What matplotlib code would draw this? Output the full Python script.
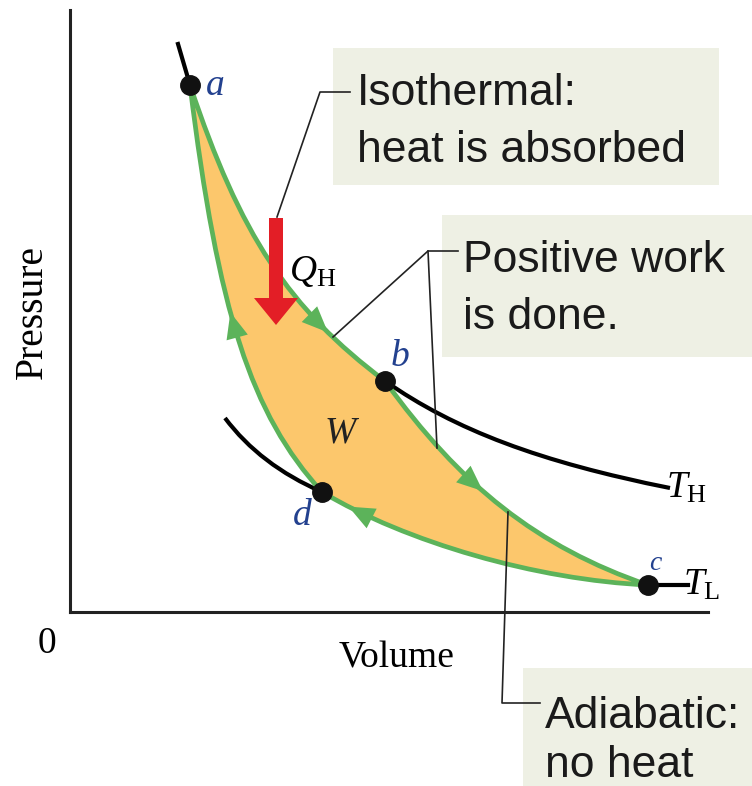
"""
Carnot cycle on a P-V diagram
Output: out.png (752 x 786 px)
"""
import matplotlib
matplotlib.use("Agg")
import matplotlib.pyplot as plt
import numpy as np
from matplotlib.path import Path
from matplotlib.patches import PathPatch, Polygon, Rectangle
from matplotlib.lines import Line2D
from matplotlib.bezier import BezierSegment

W_PX, H_PX = 752, 786

plt.rcParams["mathtext.fontset"] = "custom"
plt.rcParams["mathtext.rm"] = "Liberation Serif"
plt.rcParams["mathtext.it"] = "Liberation Serif:italic"

SERIF = "Liberation Serif"
SANS = "Liberation Sans"

GREEN = "#5cb35a"
FILL = "#fcc76c"
RED = "#e31e26"
BOX = "#eef0e4"
LABEL_BLUE = "#23418f"

# state points (volume, pressure) in plot units
STATE_NAMES = ["a", "b", "c", "d"]
STATE_V = [120, 315, 578, 252]
STATE_P = [527, 231, 27, 120]

# bezier control points (V, P) for the four legs of the cycle
ISO_HOT = [(120, 527), (170, 377), (219, 303), (315, 231)]      # a -> b
ADIA_EXP = [(315, 231), (390, 127), (467, 65), (578, 27)]       # b -> c
ISO_COLD = [(252, 120), (336, 70), (466, 32), (578, 27)]        # d -> c (drawn backwards)
ADIA_CMP = [(252, 120), (181, 198), (148, 300), (120, 527)]     # d -> a

# black isotherm extensions outside the cycle
TH_EXT = [(315, 231), (385, 182), (470, 150), (600, 124)]
TL_EXT_LEFT = [(155, 194), (190, 147), (252, 120)]
TL_EXT_RIGHT_V = [578, 618]
TL_EXT_RIGHT_P = [27, 27]
TOP_EXT_V = [108, 120]
TOP_EXT_P = [568, 527]

# arrowheads: (curve, t, forward?)
ARROWS = [("hot", 0.78, True), ("exp", 0.42, True),
          ("cold", 0.10, False), ("cmp", 0.58, True)]


def fx(x):
    return x / W_PX


def fy(y):
    return 1 - y / H_PX


def bez_path(ctrl, reverse=False):
    pts = list(ctrl)[::-1] if reverse else list(ctrl)
    codes = [Path.MOVETO] + [Path.CURVE4] * 3 if len(pts) == 4 else [Path.MOVETO] + [Path.CURVE3] * 2
    return Path(pts, codes)


def draw_arrowhead(ax, ctrl, t, forward, length=26, half=11):
    seg = BezierSegment(np.array(ctrl, dtype=float))
    tip = np.array(seg.point_at_t(t))
    d = np.array(seg.point_at_t(min(t + 0.01, 1))) - np.array(seg.point_at_t(max(t - 0.01, 0)))
    d = d / np.hypot(*d)
    if not forward:
        d = -d
    n = np.array([-d[1], d[0]])
    base = tip - length * d
    tri = [tip, base + half * n, base - half * n]
    ax.add_patch(Polygon(tri, closed=True, color=GREEN, zorder=5, lw=0))


def plot_cycle(ax):
    # filled cycle a -> b -> c -> d -> a
    verts = (ISO_HOT + ADIA_EXP[1:] + ISO_COLD[::-1][1:] + ADIA_CMP[1:])
    codes = ([Path.MOVETO] + [Path.CURVE4] * 12)
    cycle = Path(verts, codes)
    ax.add_patch(PathPatch(cycle, facecolor=FILL, edgecolor="none", zorder=1))
    ax.add_patch(PathPatch(cycle, facecolor="none", edgecolor=GREEN, lw=3.4,
                           joinstyle="round", zorder=3))

    # isotherm extensions
    for ctrl in (TH_EXT, TL_EXT_LEFT):
        ax.add_patch(PathPatch(bez_path(ctrl), facecolor="none", edgecolor="black",
                               lw=3.0, capstyle="butt", zorder=2))
    ax.plot(TL_EXT_RIGHT_V, TL_EXT_RIGHT_P, color="black", lw=3.0, zorder=2)
    ax.plot(TOP_EXT_V, TOP_EXT_P, color="black", lw=3.0, zorder=2)

    curves = {"hot": ISO_HOT, "exp": ADIA_EXP, "cold": ISO_COLD, "cmp": ADIA_CMP}
    for key, t, fwd in ARROWS:
        draw_arrowhead(ax, curves[key], t, fwd)

    # state points
    ax.plot(STATE_V, STATE_P, "o", color="#111111", ms=14, zorder=6)

    # heat input arrow
    ax.arrow(206, 394, 0, -107, width=14, head_width=44, head_length=27,
             length_includes_head=True, color=RED, lw=0, zorder=7)


def plot_labels(fig):
    it = dict(family=SERIF, style="italic", ha="center", va="center")
    fig.text(fx(215), fy(86), "a", fontsize=27, color=LABEL_BLUE, **it)
    fig.text(fx(400), fy(357), "b", fontsize=27, color=LABEL_BLUE, **it)
    fig.text(fx(655), fy(564), "c", fontsize=20, color=LABEL_BLUE, **it)
    fig.text(fx(302), fy(516), "d", fontsize=27, color=LABEL_BLUE, **it)
    fig.text(fx(340), fy(433), "W", fontsize=27, color="#222222", **it)

    fig.text(fx(289), fy(281), r"$Q_{\mathrm{H}}$", fontsize=27, ha="left", va="baseline")
    fig.text(fx(666), fy(498), r"$T_{\mathrm{H}}$", fontsize=27, ha="left", va="baseline")
    fig.text(fx(683), fy(595), r"$T_{\mathrm{L}}$", fontsize=27, ha="left", va="baseline")

    fig.text(fx(397), fy(667), "Volume", family=SERIF, fontsize=27, ha="center", va="baseline")
    fig.text(fx(32), fy(312), "Pressure", family=SERIF, fontsize=28.5, rotation=90,
             ha="center", va="center")
    fig.text(fx(47), fy(653), "0", family=SERIF, fontsize=27, ha="center", va="baseline")


def plot_callouts(fig):
    boxes = [(333, 48, 719, 185), (442, 215, 752, 357), (523, 668, 752, 786)]
    for x0, y0, x1, y1 in boxes:
        fig.add_artist(Rectangle((fx(x0), fy(y1)), fx(x1 - x0), (y1 - y0) / H_PX,
                                 transform=fig.transFigure, color=BOX, lw=0, zorder=0))

    lines = [
        ("Isothermal:", 357, 105), ("heat is absorbed", 357, 162),
        ("Positive work", 463, 272), ("is done.", 463, 329),
        ("Adiabatic:", 545, 728), ("no heat", 545, 777),
    ]
    for s, x, y in lines:
        fig.text(fx(x), fy(y), s, family=SANS, fontsize=32, color="#1a1a1a",
                 ha="left", va="baseline")

    leaders = [
        [(350, 92), (320, 92), (277, 217)],
        [(458, 251), (428, 251), (333, 337)],
        [(428, 251), (437, 448)],
        [(540, 703), (502, 703), (508, 512)],
    ]
    for pts in leaders:
        xs = [fx(p[0]) for p in pts]
        ys = [fy(p[1]) for p in pts]
        fig.add_artist(Line2D(xs, ys, color="#222222", lw=1.2, zorder=8,
                              transform=fig.transFigure))


def main():
    fig = plt.figure(figsize=(W_PX / 100, H_PX / 100), dpi=100, facecolor="white")
    ax = fig.add_axes([fx(70), fy(612), fx(638), 602 / H_PX])
    ax.set_xlim(0, 638)
    ax.set_ylim(0, 602)
    ax.set_facecolor("none")
    ax.set_xticks([])
    ax.set_yticks([])
    for spine in ["top", "right"]:
        ax.spines[spine].set_visible(False)
    for spine in ["left", "bottom"]:
        ax.spines[spine].set_linewidth(2.2)
        ax.spines[spine].set_color("#222222")

    plot_callouts(fig)
    plot_cycle(ax)
    plot_labels(fig)

    fig.savefig("out.png", dpi=100, facecolor="white")
    plt.close(fig)


if __name__ == "__main__":
    main()
